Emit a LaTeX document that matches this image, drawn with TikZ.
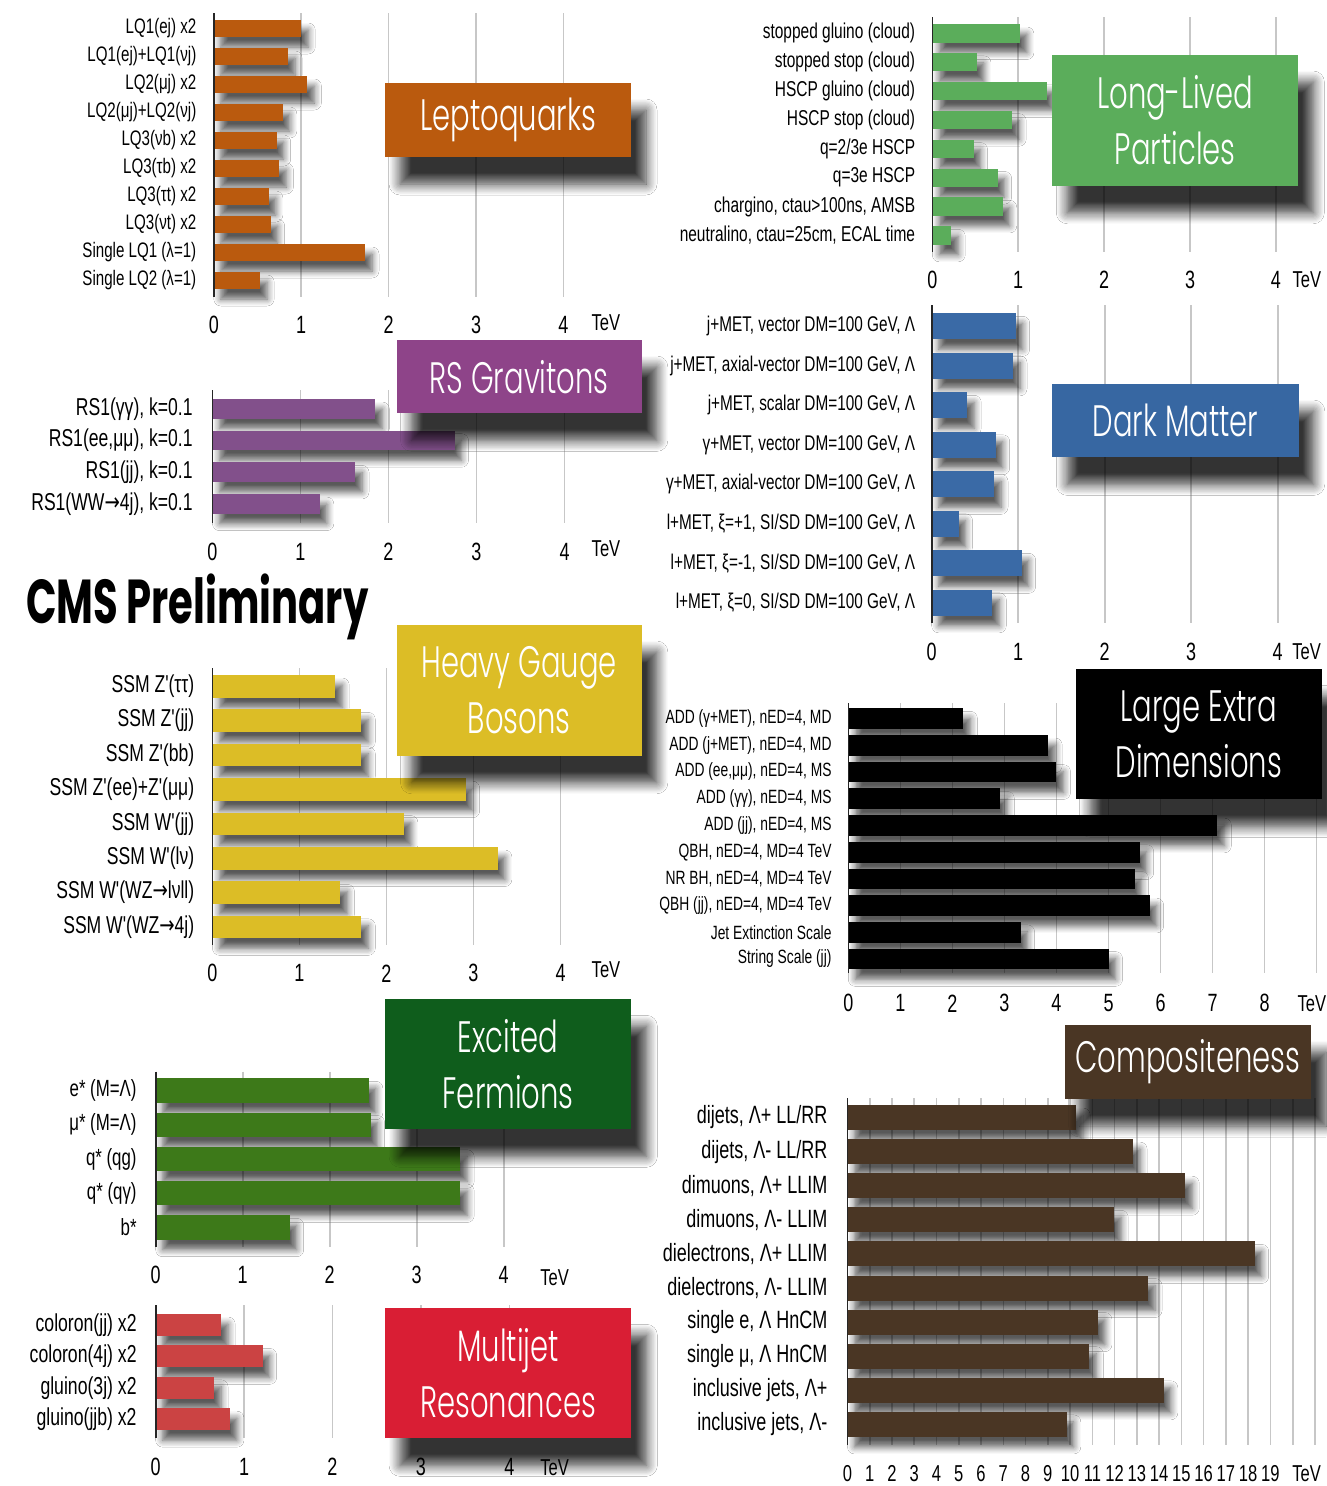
\documentclass[tikz,border=0pt]{standalone}
\usepackage{fontspec}
\usetikzlibrary{shadows.blur}
\newfontfamily\lblfont[FakeStretch=0.72]{Liberation Sans}
\newfontfamily\arrfont[FakeStretch=0.75]{DejaVu Sans}
\newfontfamily\ttlfont[FakeStretch=0.66]{Poppins Light}
\newfontfamily\cmsfont[FakeStretch=0.647]{Poppins}
\newcommand{\toarr}{{\arrfont →}}

\definecolor{lqcol}{HTML}{BA5A0E}
\definecolor{llpcol}{HTML}{5BAD5B}
\definecolor{dmcol}{HTML}{3767A2}
\definecolor{dmbar}{HTML}{3A6AA6}
\definecolor{rscol}{HTML}{8E4489}
\definecolor{rsbar}{HTML}{82508B}
\definecolor{hgbcol}{HTML}{DCBD26}
\definecolor{ledcol}{HTML}{000000}
\definecolor{efcol}{HTML}{0F5D1C}
\definecolor{efbar}{HTML}{3D7919}
\definecolor{mjcol}{HTML}{D91E34}
\definecolor{mjbar}{HTML}{CB4343}
\definecolor{cocol}{HTML}{4A3624}

\tikzset{
  gridline/.style={draw=black!22, line width=1.6pt},
  axisline/.style={draw=black!85, line width=1.6pt},
  bar/.style={fill=#1, blur shadow={shadow xshift=7pt, shadow yshift=-10pt,
      shadow blur radius=7pt, shadow blur steps=6, shadow opacity=65}},
  lbl/.style={anchor=east, inner sep=0pt, font=\lblfont\fontsize{#1}{#1}\selectfont},
  tickno/.style={inner sep=0pt, font=\lblfont\fontsize{#1}{#1}\selectfont},
  titlebox/.style={fill=#1, text=white, align=center, inner sep=0pt,
      font=\ttlfont\fontsize{44}{56}\selectfont,
      blur shadow={shadow xshift=15pt, shadow yshift=-27pt,
      shadow blur radius=11pt, shadow blur steps=10, shadow opacity=80}},
}

\begin{document}
\begin{tikzpicture}[x=1pt,y=-1pt]
\useasboundingbox (0,0) rectangle (1327,1486);
\clip (0,0) rectangle (1327,1486);
\fill[white] (0,0) rectangle (1327,1486);

% Leptoquarks
\begin{scope}[shift={(213.8,20)}]
  \foreach \t in {1,...,4} \draw[gridline] (\t*87.4,-7) -- (\t*87.4,277);
  \foreach \lab/\val [count=\i from 0] in {
      {LQ1(ej) x2}/1.00, {LQ1(ej)+LQ1(νj)}/0.85, {LQ2(μj) x2}/1.07,
      {LQ2(μj)+LQ2(νj)}/0.79, {LQ3(νb) x2}/0.72, {LQ3(τb) x2}/0.75,
      {LQ3(τt) x2}/0.63, {LQ3(νt) x2}/0.65, {Single LQ1 (λ=1)}/1.73,
      {Single LQ2 (λ=1)}/0.53} {
    \fill[bar=lqcol] (0,\i*28) rectangle ++(\val*87.4,17);
    \node[lbl=21] (lq\i) at (-17.3,\i*28+8.5) {\lab};
  }
  \draw[axisline] (0,-7) -- (0,277);
  \foreach \t in {0,...,4} \node[tickno=25] (lqx\t) at (\t*87.4,305) {\t};
  \node[tickno=23] (lqtev) at (392,303) {TeV};
\end{scope}

% Long-lived particles
\begin{scope}[shift={(932.3,24)}]
  \foreach \t in {1,...,4} \draw[gridline] (\t*85.9,-7) -- (\t*85.9,228);
  \foreach \lab/\val [count=\i from 0] in {
      {stopped gluino (cloud)}/1.02, {stopped stop (cloud)}/0.52,
      {HSCP gluino (cloud)}/1.33, {HSCP stop (cloud)}/0.93,
      {q=2/3e HSCP}/0.48, {q=3e HSCP}/0.76,
      {chargino, ctau>100ns, AMSB}/0.82, {neutralino, ctau=25cm, ECAL time}/0.22} {
    \fill[bar=llpcol] (0,\i*28.9) rectangle ++(\val*85.9,18.5);
    \node[lbl=21.5] (llp\i) at (-17,\i*28.9+9.2) {\lab};
  }
  \draw[axisline] (0,-7) -- (0,228);
  \foreach \t in {0,...,4} \node[tickno=25] (llpx\t) at (\t*85.9,256) {\t};
  \node[tickno=23] (llptev) at (374.5,256) {TeV};
\end{scope}

% Dark matter
\begin{scope}[shift={(931.7,313.3)}]
  \foreach \t in {1,...,4} \draw[gridline] (\t*86.5,-8.3) -- (\t*86.5,309.7);
  \foreach \lab/\val [count=\i from 0] in {
      {j+MET, vector DM=100 GeV, Λ}/0.97, {j+MET, axial-vector DM=100 GeV, Λ}/0.94,
      {j+MET, scalar DM=100 GeV, Λ}/0.41, {γ+MET, vector DM=100 GeV, Λ}/0.74,
      {γ+MET, axial-vector DM=100 GeV, Λ}/0.72, {l+MET, ξ=+1, SI/SD DM=100 GeV, Λ}/0.31,
      {l+MET, ξ=-1, SI/SD DM=100 GeV, Λ}/1.04, {l+MET, ξ=0, SI/SD DM=100 GeV, Λ}/0.70} {
    \fill[bar=dmbar] (0,\i*39.5) rectangle ++(\val*86.5,26);
    \node[lbl=21.3] (dm\i) at (-16.3,\i*39.5+13) {\lab};
  }
  \draw[axisline] (0,-8.3) -- (0,309.7);
  \foreach \t in {0,...,4} \node[tickno=25] (dmx\t) at (\t*86.5,338.4) {\t};
  \node[tickno=23] (dmtev) at (375,338.4) {TeV};
\end{scope}

% RS gravitons
\begin{scope}[shift={(212.5,399)}]
  \foreach \t in {1,...,4} \draw[gridline] (\t*88,-9) -- (\t*88,124.3);
  \foreach \lab/\val [count=\i from 0] in {
      {RS1(γγ), k=0.1}/1.85, {RS1(ee,μμ), k=0.1}/2.75,
      {RS1(jj), k=0.1}/1.62, {RS1(WW\toarr 4j), k=0.1}/1.22} {
    \fill[bar=rsbar] (0,\i*31.7) rectangle ++(\val*88,19.5);
    \node[lbl=24.4] (rs\i) at (-19.7,\i*31.7+9.8) {\lab};
  }
  \draw[axisline] (0,-9) -- (0,124.3);
  \foreach \t in {0,...,4} \node[tickno=25] (rsx\t) at (\t*88,152.7) {\t};
  \node[tickno=23] (rstev) at (393.5,150) {TeV};
\end{scope}

% Heavy gauge bosons
\begin{scope}[shift={(212.5,675)}]
  \foreach \t in {1,...,4} \draw[gridline] (\t*87,-7) -- (\t*87,270);
  \foreach \lab/\val [count=\i from 0] in {
      {SSM Z'(ττ)}/1.41, {SSM Z'(jj)}/1.71, {SSM Z'(bb)}/1.71,
      {SSM Z'(ee)+Z'(μμ)}/2.91, {SSM W'(jj)}/2.20, {SSM W'(lν)}/3.28,
      {SSM W'(WZ\toarr lνll)}/1.47, {SSM W'(WZ\toarr 4j)}/1.71} {
    \fill[bar=hgbcol] (0,\i*34.4) rectangle ++(\val*87,22.5);
    \node[lbl=24.4] (hgb\i) at (-18.1,\i*34.4+11.2) {\lab};
  }
  \draw[axisline] (0,-7) -- (0,270);
  \foreach \t in {0,...,4} \node[tickno=25] (hgbx\t) at (\t*87,298.3) {\t};
  \node[tickno=23] (hgbtev) at (393.5,295) {TeV};
\end{scope}

% Large extra dimensions
\begin{scope}[shift={(848.3,708.3)}]
  \foreach \t in {1,...,9} \draw[gridline] (\t*52.04,-5.3) -- (\t*52.04,264.7);
  \foreach \lab/\val [count=\i from 0] in {
      {ADD (γ+MET), nED=4, MD}/2.21, {ADD (j+MET), nED=4, MD}/3.84,
      {ADD (ee,μμ), nED=4, MS}/4.00, {ADD (γγ), nED=4, MS}/2.92,
      {ADD (jj), nED=4, MS}/7.09, {QBH, nED=4, MD=4 TeV}/5.60,
      {NR BH, nED=4, MD=4 TeV}/5.50, {QBH (jj), nED=4, MD=4 TeV}/5.79,
      {Jet Extinction Scale}/3.31, {String Scale (jj)}/5.00} {
    \fill[bar=ledcol] (0,\i*26.7) rectangle ++(\val*52.04,20.7);
    \node[lbl=19.2] (led\i) at (-16.6,\i*26.7+10.3) {\lab};
  }
  \draw[axisline] (0,-5.3) -- (0,264.7);
  \foreach \t in {0,...,8} \node[tickno=25] (ledx\t) at (\t*52.04,295) {\t};
  \node[tickno=23, anchor=east] (ledtev) at (478,295) {TeV};
\end{scope}

% Excited fermions
\begin{scope}[shift={(155.7,1078.3)}]
  \foreach \t in {1,...,4} \draw[gridline] (\t*87,-6.6) -- (\t*87,168.4);
  \foreach \lab/\val [count=\i from 0] in {
      {e* (M=Λ)}/2.45, {μ* (M=Λ)}/2.47, {q* (qg)}/3.50, {q* (qγ)}/3.50, {b*}/1.54} {
    \fill[bar=efbar] (0,\i*34.25) rectangle ++(\val*87,24.4);
    \node[lbl=23.4] (ef\i) at (-18.9,\i*34.25+12.2) {\lab};
  }
  \draw[axisline] (0,-6.6) -- (0,168.4);
  \foreach \t in {0,...,4} \node[tickno=25] (efx\t) at (\t*87,196.7) {\t};
  \node[tickno=23] (eftev) at (399,199.7) {TeV};
\end{scope}

% Multijet resonances
\begin{scope}[shift={(155.7,1314)}]
  \foreach \t in {1,...,4} \draw[gridline] (\t*88.4,-9) -- (\t*88.4,124.3);
  \foreach \lab/\val [count=\i from 0] in {
      {coloron(jj) x2}/0.74, {coloron(4j) x2}/1.21,
      {gluino(3j) x2}/0.66, {gluino(jjb) x2}/0.84} {
    \fill[bar=mjbar] (0,\i*31.4) rectangle ++(\val*88.4,21.9);
    \node[lbl=24.5] (mj\i) at (-18.9,\i*31.4+11) {\lab};
  }
  \draw[axisline] (0,-9) -- (0,124.3);
  \foreach \t in {0,...,4} \node[tickno=25] (mjx\t) at (\t*88.4,152.7) {\t};
  \node[tickno=23] (mjtev) at (399,154) {TeV};
\end{scope}

% Compositeness
\begin{scope}[shift={(847.5,1105)}]
  \foreach \t in {1,...,21} \draw[gridline] (\t*22.26,-6.7) -- (\t*22.26,340);
  \foreach \lab/\val [count=\i from 0] in {
      {dijets, Λ+ LL/RR}/10.27, {dijets, Λ- LL/RR}/12.83,
      {dimuons, Λ+ LLIM}/15.17, {dimuons, Λ- LLIM}/11.98,
      {dielectrons, Λ+ LLIM}/18.29, {dielectrons, Λ- LLIM}/13.50,
      {single e,  Λ HnCM}/11.25, {single μ, Λ HnCM}/10.86,
      {inclusive jets, Λ+}/14.21, {inclusive jets, Λ-}/9.85} {
    \fill[bar=cocol] (0,\i*34.1) rectangle ++(\val*22.26,25);
    \node[lbl=25] (co\i) at (-19.8,\i*34.1+12.5) {\lab};
  }
  \draw[axisline] (0,-6.7) -- (0,340);
  \foreach \t in {0,...,19} \node[tickno=23] (cox\t) at (\t*22.26,368.3) {\t};
  \node[tickno=23] (cotev) at (459.2,368.3) {TeV};
\end{scope}

% title boxes
\node[titlebox=lqcol, minimum width=246pt, minimum height=74pt] (lqbox) at (508,120) {Leptoquarks};
\node[titlebox=llpcol, minimum width=246pt, minimum height=130.7pt] (llpbox) at (1175.3,120.4) {Long-Lived\\Particles};
\node[titlebox=dmcol, minimum width=246.5pt, minimum height=73.3pt] (dmbox) at (1175.5,420.7) {Dark Matter};
\node[titlebox=rscol, minimum width=245.3pt, minimum height=73.3pt] (rsbox) at (519.2,376.7) {RS Gravitons};
\node[titlebox=hgbcol, minimum width=245.3pt, minimum height=130.7pt] (hgbbox) at (519.2,690.4) {Heavy Gauge\\Bosons};
\node[titlebox=ledcol, minimum width=246.5pt, minimum height=130pt] (ledbox) at (1198.8,734.3) {Large Extra\\Dimensions};
\node[titlebox=efcol, minimum width=246.3pt, minimum height=130pt] (efbox) at (508.2,1064.3) {Excited\\Fermions};
\node[titlebox=mjcol, minimum width=246.3pt, minimum height=130pt] (mjbox) at (508.2,1373.3) {Multijet\\Resonances};
\node[titlebox=cocol, minimum width=246.4pt, minimum height=74pt] (cobox) at (1187.8,1062) {Compositeness};

\node[anchor=base west, inner sep=0pt, font=\cmsfont\bfseries\fontsize{62}{62}\selectfont] (cms) at (26,623) {CMS Preliminary};
\end{tikzpicture}
\end{document}
